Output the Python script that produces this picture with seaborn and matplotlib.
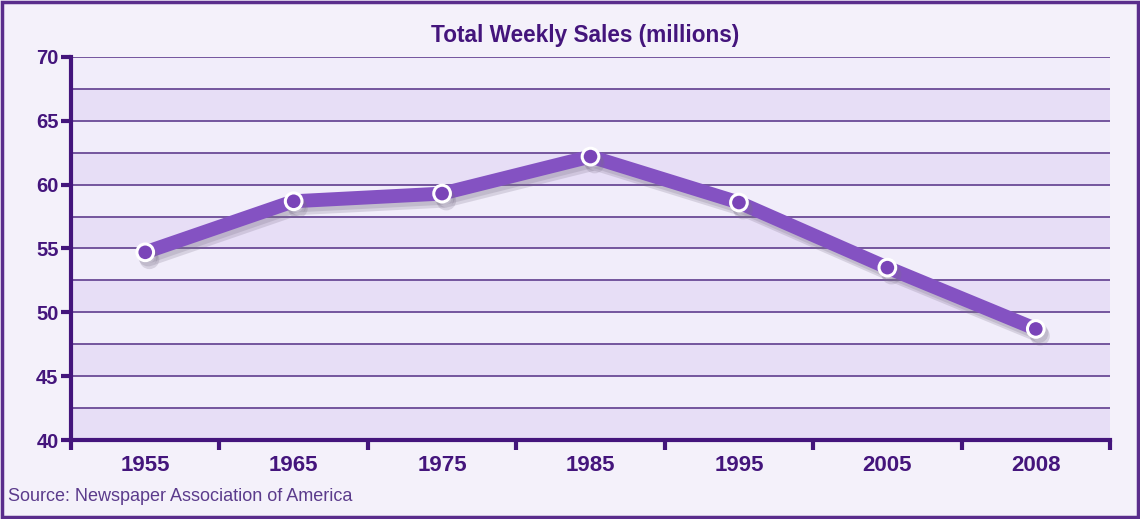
import matplotlib
matplotlib.use("Agg")
import matplotlib.pyplot as plt
import matplotlib.patheffects as pe
from matplotlib.ticker import MultipleLocator, FixedLocator, NullFormatter
import seaborn as sns
import pandas as pd

years = ["1955", "1965", "1975", "1985", "1995", "2005", "2008"]
weekly_sales = [54.7, 58.7, 59.3, 62.2, 58.6, 53.5, 48.7]

title = "Total Weekly Sales (millions)"
source_note = "Source: Newspaper Association of America"

dark_purple = "#44157c"
grid_purple = "#6a4a96"
line_purple = "#8452c2"
fig_bg = "#f4f1fa"
band_light = "#f1edfa"
band_dark = "#e7def6"

sns.set_theme(style="white")
plt.rcParams["font.family"] = ["Liberation Sans", "DejaVu Sans"]

df = pd.DataFrame({"year": years, "sales": weekly_sales})

fig = plt.figure(figsize=(11.4, 5.19), dpi=100, facecolor=fig_bg)
ax = fig.add_axes([0.0623, 0.1522, 0.9114, 0.738])
ax.set_facecolor(band_light)

# alternating horizontal bands
for lo in range(40, 70, 5):
    ax.axhspan(lo, lo + 2.5, color=band_dark, lw=0, zorder=0)

sns.pointplot(
    data=df, x="year", y="sales", ax=ax,
    color=line_purple, markers="o", linestyles="-",
    linewidth=10, markersize=12,
    markeredgecolor="white", markeredgewidth=2.2,
    markerfacecolor="#7a44b8",
    errorbar=None, zorder=5,
)
for ln in ax.lines:
    ln.set_solid_capstyle("round")
    ln.set_path_effects([
        pe.SimpleLineShadow(offset=(3, -5), shadow_color="#7a7088", alpha=0.22),
        pe.SimpleLineShadow(offset=(2, -3), shadow_color="#7a7088", alpha=0.22),
        pe.Normal(),
    ])

ax.set_ylim(40, 70)
ax.set_xlim(-0.5, len(years) - 0.5)

# y axis: labelled ticks every 5, gridlines every 2.5
ax.yaxis.set_major_locator(MultipleLocator(5))
ax.yaxis.set_minor_locator(MultipleLocator(2.5))
ax.grid(axis="y", which="both", color=grid_purple, lw=1.3, zorder=1)
ax.set_axisbelow(True)

# x axis: labels centred on categories, tick marks at category boundaries
ax.set_xticks(range(len(years)))
ax.set_xticklabels(years)
ax.xaxis.set_minor_locator(FixedLocator([i - 0.5 for i in range(len(years) + 1)]))
ax.xaxis.set_minor_formatter(NullFormatter())

ax.tick_params(axis="x", which="major", length=0, pad=11,
               labelsize=16, labelcolor=dark_purple)
ax.tick_params(axis="x", which="minor", length=7, width=3,
               color=dark_purple, direction="out", bottom=True)
ax.tick_params(axis="y", which="major", length=7, width=3,
               color=dark_purple, direction="out", left=True,
               labelsize=14.5, labelcolor=dark_purple, pad=2)
ax.tick_params(axis="y", which="minor", length=0)
for lbl in ax.get_xticklabels() + ax.get_yticklabels():
    lbl.set_fontweight("bold")

ax.set_xlabel("")
ax.set_ylabel("")

for side in ("top", "right"):
    ax.spines[side].set_visible(False)
for side in ("left", "bottom"):
    ax.spines[side].set_color(dark_purple)
    ax.spines[side].set_linewidth(3)
    ax.spines[side].set_zorder(6)

fig.text(0.513, 0.932, title, ha="center", va="center",
         fontsize=16.3, fontweight="bold", color=dark_purple)
fig.text(0.007, 0.043, source_note, ha="left", va="center",
         fontsize=13, color="#5b3b8c")

# figure frame
fig.patches.append(plt.Rectangle((0.0015, 0.003), 0.997, 0.994,
                                 transform=fig.transFigure, fill=False,
                                 edgecolor="#5a2d8c", lw=2.5))

fig.savefig("out.png", dpi=100, facecolor=fig_bg)
